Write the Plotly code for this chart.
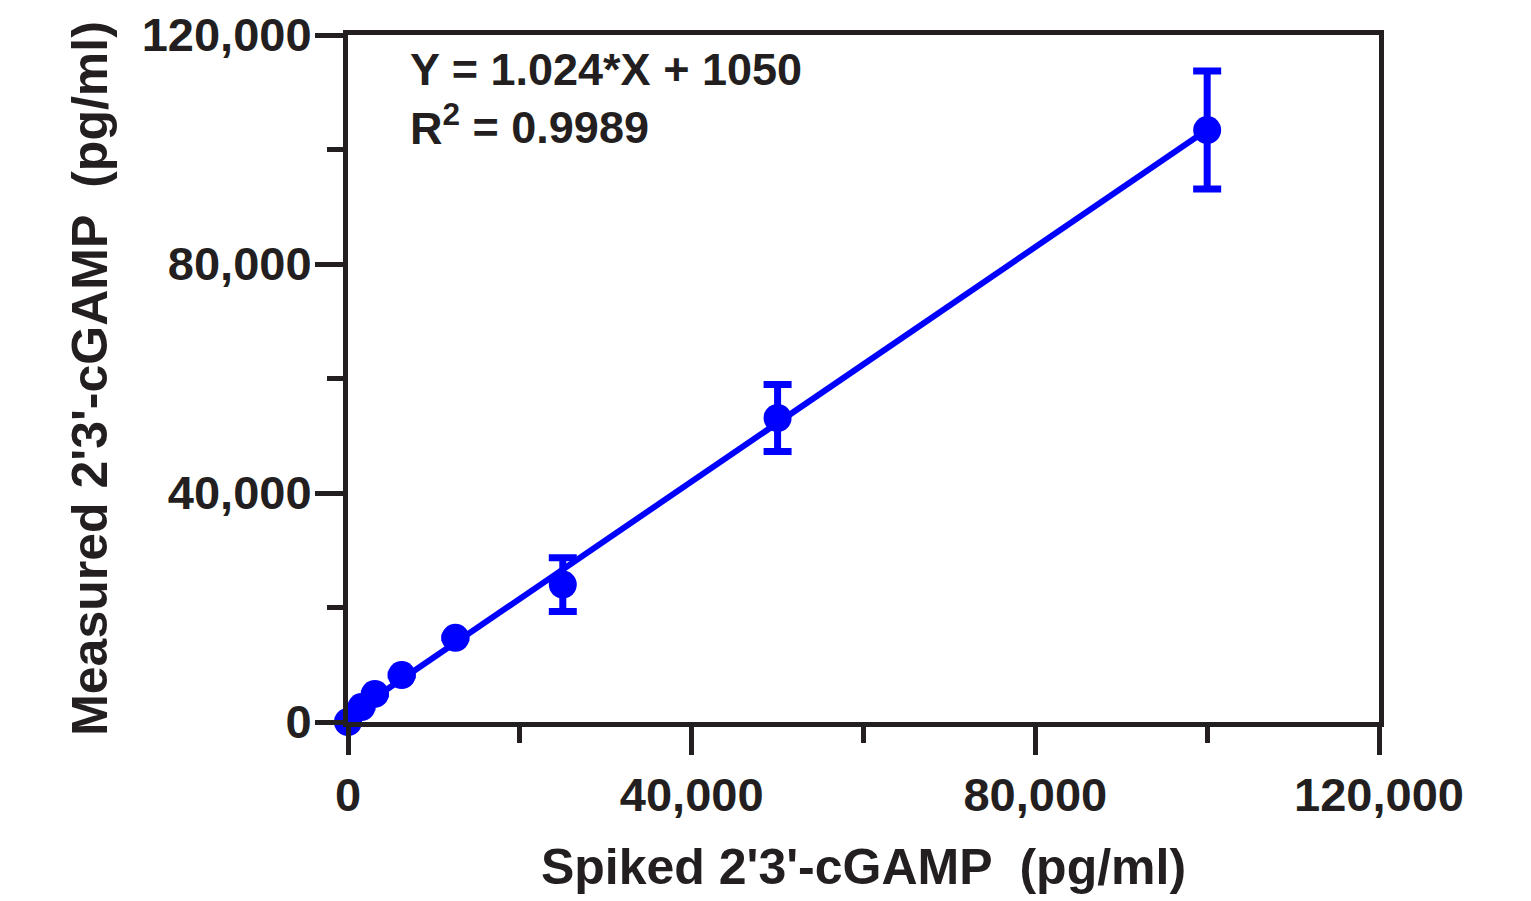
import plotly.graph_objects as go

# Data
spiked = [0, 1562.5, 3125, 6250, 12500, 25000, 50000, 100000]
measured = [0, 2600, 4900, 8200, 14700, 24000, 53100, 103400]
sd = [0, 0, 0, 0, 0, 4700, 5850, 10300]
slope = 1.024
intercept = 1050
r2 = 0.9989

x_ticks = [0, 40000, 80000, 120000]
y_ticks = [0, 40000, 80000, 120000]
tick_labels = ["0", "40,000", "80,000", "120,000"]

BLUE = "#0000ff"
INK = "#231f20"
FONT = "Liberation Sans, Arial, sans-serif"

fit_x = [min(spiked), max(spiked)]
fit_y = [slope * v + intercept for v in fit_x]

fig = go.Figure()
fig.add_trace(go.Scatter(x=fit_x, y=fit_y, mode="lines", cliponaxis=False,
                         line=dict(color=BLUE, width=6), hoverinfo="skip",
                         showlegend=False))
fig.add_trace(go.Scatter(x=spiked, y=measured, mode="markers", cliponaxis=False,
                         marker=dict(color=BLUE, size=28, line=dict(width=0)),
                         error_y=dict(type="data", array=sd, visible=True,
                                      color=BLUE, thickness=7, width=14),
                         showlegend=False))

axis_common = dict(
    range=[0, 120000], showgrid=False, zeroline=False, automargin=False,
    showline=True, linecolor=INK, linewidth=5, mirror=True,
    ticks="outside", ticklen=28, tickwidth=5, tickcolor=INK,
    ticktext=tick_labels,
    tickfont=dict(family=FONT, size=47, color=INK, weight="bold"),
    minor=dict(ticks="outside", ticklen=16, tickwidth=5, tickcolor=INK,
               dtick=20000, showgrid=False),
)

fig.update_layout(
    width=1523, height=893,
    margin=dict(l=340, r=152, t=27, b=179),
    plot_bgcolor="white", paper_bgcolor="white",
    xaxis=dict(**axis_common, tickvals=x_ticks,
               title=dict(text="Spiked 2'3'-cGAMP  (pg/ml)",
                          font=dict(family=FONT, size=50, color=INK, weight="bold"),
                          standoff=30)),
    yaxis=dict(**axis_common, tickvals=y_ticks, ticklabelstandoff=-6,
               title=dict(text="Measured 2'3'-cGAMP  (pg/ml)",
                          font=dict(family=FONT, size=50, color=INK, weight="bold"),
                          standoff=20)),
    annotations=[dict(
        x=0.058, y=0.99, xref="paper", yref="paper",
        xanchor="left", yanchor="top", align="left", showarrow=False,
        text=f"Y = {slope}*X + {intercept}<br>R<sup>2</sup> = {r2}",
        font=dict(family=FONT, size=45, color=INK, weight="bold"),
    )],
)

fig.write_html("out.html")
